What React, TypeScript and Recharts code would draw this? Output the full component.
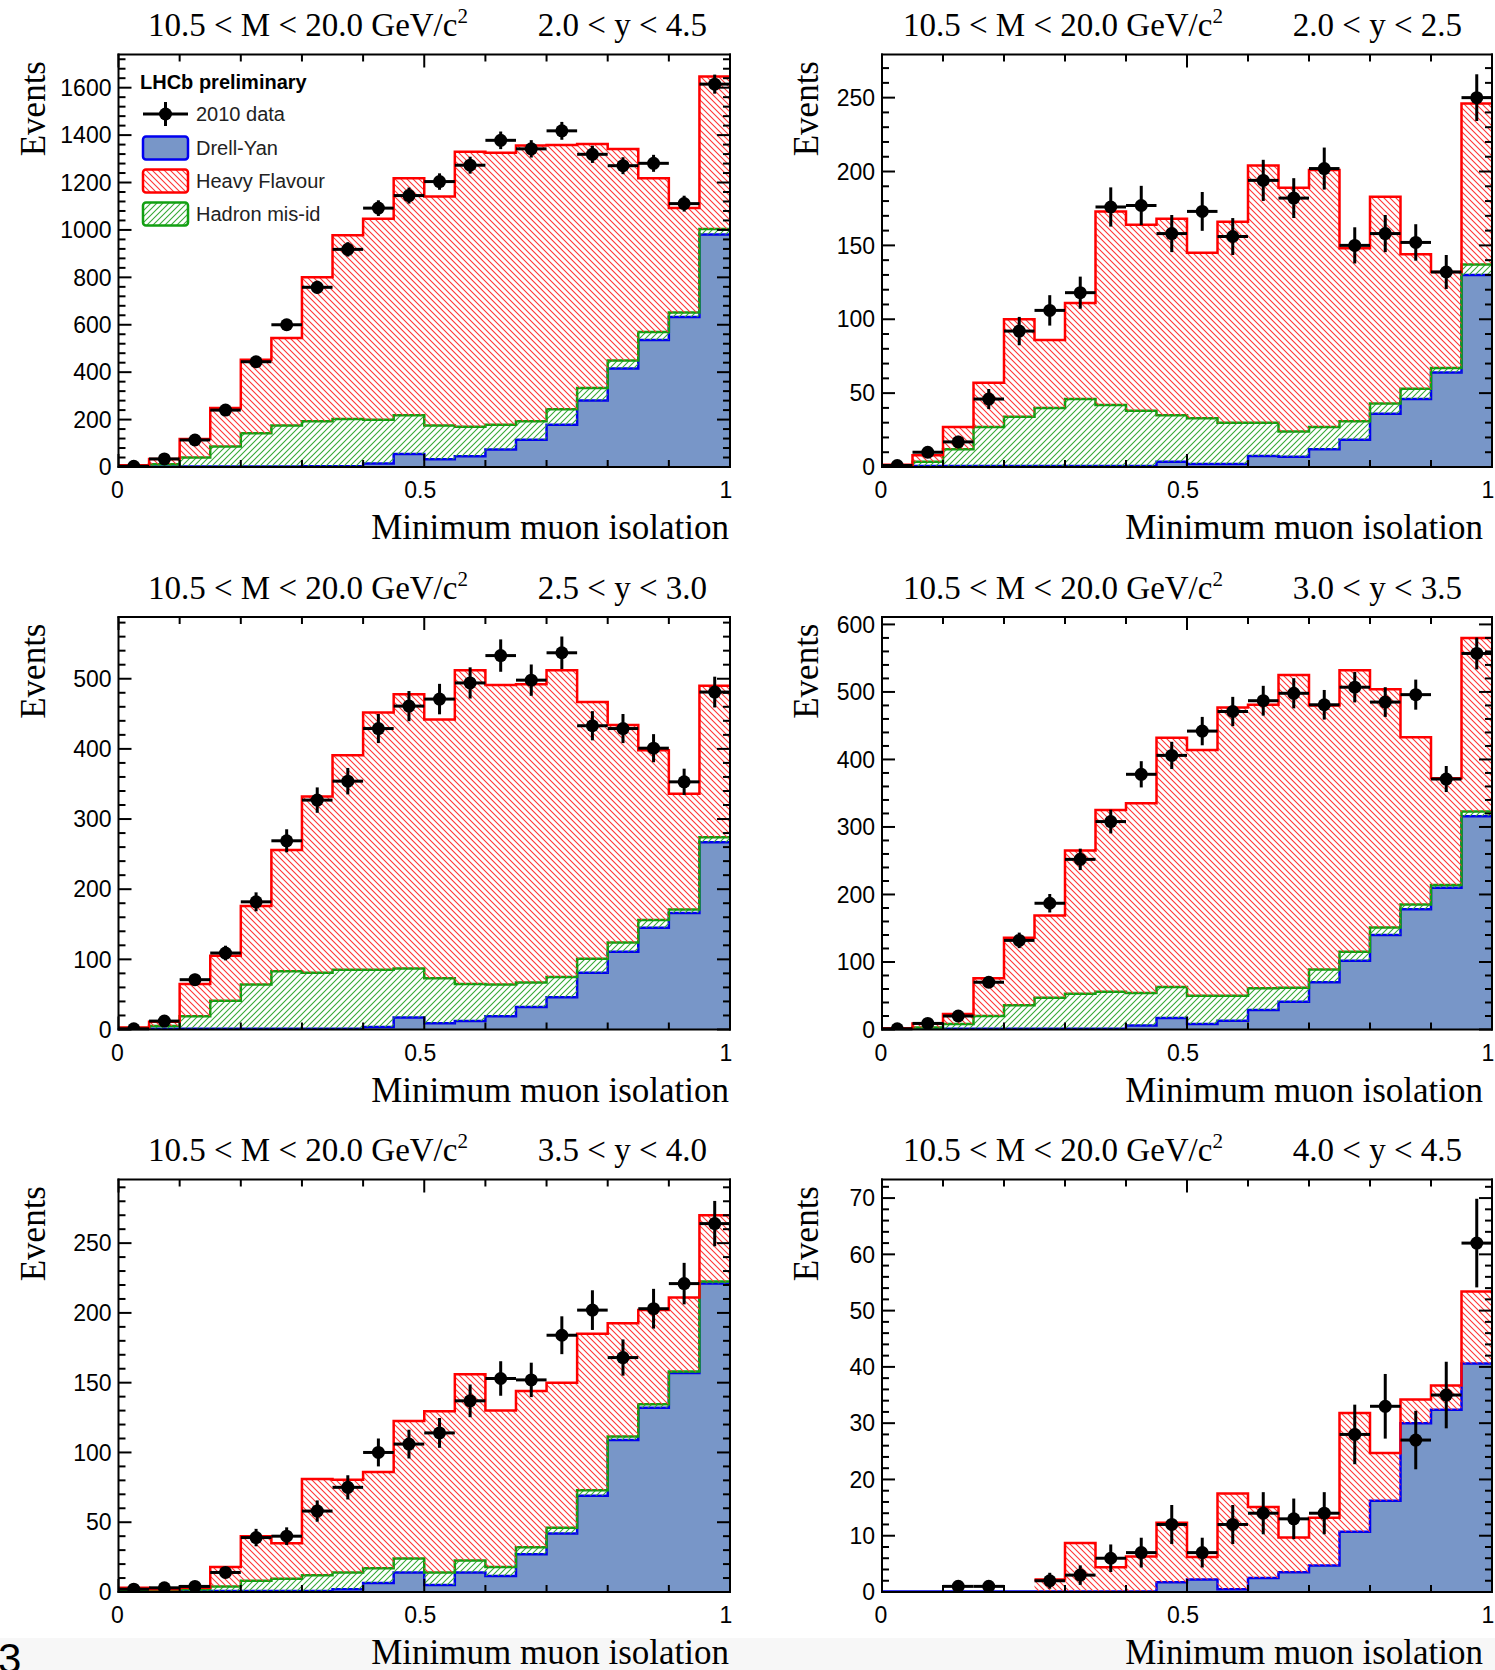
import React from 'react'
import { ComposedChart, Area, Scatter, ErrorBar, XAxis, YAxis } from 'recharts'

// bins of minimum muon isolation
const binEdges = [0, 0.05, 0.1, 0.15, 0.2, 0.25, 0.3, 0.35, 0.4, 0.45, 0.5, 0.55, 0.6, 0.65, 0.7, 0.75, 0.8, 0.85, 0.9, 0.95, 1]
const xTicks = [0, 0.1, 0.2, 0.3, 0.4, 0.5, 0.6, 0.7, 0.8, 0.9, 1]
const xLabels = [0, 0.5, 1]

const massLabel = '10.5 < M < 20.0 GeV/c'
const rapidityBins = ['2.0 < y < 4.5', '2.0 < y < 2.5', '2.5 < y < 3.0', '3.0 < y < 3.5', '3.5 < y < 4.0', '4.0 < y < 4.5']
const xTitle = 'Minimum muon isolation'
const yTitle = 'Events'
const experimentLabel = 'LHCb preliminary'
const legendLabels = ['2010 data', 'Drell-Yan', 'Heavy Flavour', 'Hadron mis-id']

// 2.0 < y < 4.5
const dy1 = [2, 2, 2, 2, 2, 2, 3, 3, 15, 55, 33, 45, 74, 115, 178, 281, 415, 536, 633, 981]
const misid1 = [1, 10, 38, 84, 140, 173, 190, 200, 184, 163, 142, 125, 104, 78, 66, 52, 34, 33, 19, 23]
const hf1 = [4, 22, 78, 163, 310, 369, 607, 775, 848, 1000, 966, 1160, 1148, 1163, 1114, 1030, 892, 649, 441, 643]
const data1 = [3, 34, 114, 240, 444, 600, 758, 918, 1092, 1145, 1204, 1273, 1378, 1342, 1418, 1319, 1271, 1281, 1111, 1615]
const yLabels1 = [0, 200, 400, 600, 800, 1000, 1200, 1400, 1600]

// 2.0 < y < 2.5
const dy2 = [0.7, 0.7, 0.7, 0.7, 0.7, 0.7, 0.7, 0.7, 0.7, 3.5, 2, 2, 7.5, 7, 12, 18.5, 36, 46, 64, 130]
const misid2 = [0.3, 2.8, 11.3, 26.3, 33.3, 39.3, 45.3, 41.3, 37.3, 31.5, 31, 28, 22.5, 17, 15, 12.5, 7, 7, 3, 7]
const hf2 = [0.5, 4.5, 15, 30, 66, 46, 65, 131, 126, 133, 112, 136, 174, 165, 174, 117, 140, 91, 65, 109]
const data2 = [1, 10, 17, 46, 92, 106, 118, 176, 177, 158, 173, 156, 194, 182, 202, 150, 158, 152, 132, 250]
const yLabels2 = [0, 50, 100, 150, 200, 250]

// 2.5 < y < 3.0
const dy3 = [1, 1, 1, 1, 1, 1, 1, 1, 3.5, 17, 9, 12, 19, 32, 46, 81, 111, 145, 166, 267]
const misid3 = [1, 4, 18, 40, 63, 82, 80, 84, 81.5, 70, 64, 53, 45, 35, 29, 20, 13, 11, 5, 7]
const hf3 = [1, 6, 46, 64, 112, 173, 251, 306, 367, 391, 369, 447, 427, 425, 437, 366, 310, 242, 165, 216]
const data3 = [1, 12, 71, 109, 182, 269, 327, 354, 429, 461, 471, 494, 533, 498, 537, 433, 429, 401, 353, 481]
const yLabels3 = [0, 100, 200, 300, 400, 500]

// 3.0 < y < 3.5
const dy4 = [1, 1, 1, 1, 1, 1, 1, 1, 6, 17, 8, 13, 29, 41, 70, 102, 140, 178, 210, 316]
const misid4 = [0, 2, 7, 19, 35, 46, 52, 55, 48, 46, 42, 37, 32, 21, 19, 13, 11, 7, 4, 7]
const hf4 = [1, 6, 15, 56, 100, 122, 212, 269, 281, 369, 364, 427, 420, 463, 391, 417, 353, 248, 158, 257]
const data4 = [1, 9, 20, 70, 132, 187, 252, 308, 378, 406, 442, 471, 487, 498, 481, 507, 485, 496, 371, 557]
const yLabels4 = [0, 100, 200, 300, 400, 500, 600]

// 3.5 < y < 4.0
const dy5 = [0.75, 0.75, 0.75, 0.75, 0.75, 0.75, 0.75, 2, 6.5, 14, 5, 14, 11.5, 27, 42, 69, 109, 132, 157, 221]
const misid5 = [0.75, 0.75, 1.25, 3.25, 7.25, 8.75, 11.25, 12, 10.5, 10, 9, 8.5, 6.5, 5, 4, 4, 2.5, 2.5, 1, 1.5]
const hf5 = [1.5, 0.5, 1, 14, 32, 25.5, 69, 66.5, 69, 98.5, 115.5, 133.5, 112, 112, 104, 112, 81, 67.5, 53, 47.5]
const data5 = [2, 3, 4, 14, 39, 40, 58, 75, 100, 106, 114, 137, 153, 152, 184, 202, 168, 203, 221, 264]
const yLabels5 = [0, 50, 100, 150, 200, 250]

// 4.0 < y < 4.5 (no visible hadron mis-id, no heavy flavour below 0.25)
const dy6 = [0.1, 0.1, 0.1, 0.1, 0.1, 0.1, 0.1, 0.1, 0.1, 1.75, 2.2, 0.5, 2.5, 3.5, 4.7, 10.7, 16.2, 30, 32.4, 40.6]
const hf6 = [null, null, null, null, null, 2.1, 8.6, 4.3, 6.2, 10.55, 4, 17, 12.6, 6.2, 8.5, 21.1, 8.5, 4.2, 4.3, 12.8]
const data6 = [null, null, 1, 1, null, 2, 3, 6, 7, 12, 7, 12, 14, 13, 14, 28, 33, 27, 35, 62]
const yLabels6 = [0, 10, 20, 30, 40, 50, 60, 70]

type PanelDef = {
  range: string
  dy: number[]
  misid: number[] | null
  hf: (number | null)[]
  data: (number | null)[]
  yLabels: number[]
  yMax: number
  col: number
  row: number
}

const panels: PanelDef[] = [
  { range: rapidityBins[0], dy: dy1, misid: misid1, hf: hf1, data: data1, yLabels: yLabels1, yMax: 1740, col: 0, row: 0 },
  { range: rapidityBins[1], dy: dy2, misid: misid2, hf: hf2, data: data2, yLabels: yLabels2, yMax: 279.2, col: 1, row: 0 },
  { range: rapidityBins[2], dy: dy3, misid: misid3, hf: hf3, data: data3, yLabels: yLabels3, yMax: 588, col: 0, row: 1 },
  { range: rapidityBins[3], dy: dy4, misid: misid4, hf: hf4, data: data4, yLabels: yLabels4, yMax: 611, col: 1, row: 1 },
  { range: rapidityBins[4], dy: dy5, misid: misid5, hf: hf5, data: data5, yLabels: yLabels5, yMax: 295.6, col: 0, row: 2 },
  { range: rapidityBins[5], dy: dy6, misid: null, hf: hf6, data: data6, yLabels: yLabels6, yMax: 73.3, col: 1, row: 2 },
]

// page layout (px)
const COLS = [
  { left: 0, width: 750, plotLeft: 118.5, plotRight: 730, titleX: 148, rangeEnd: 707, xTitleEnd: 729, eventsX: 44.5 },
  { left: 760, width: 735, plotLeft: 882, plotRight: 1492, titleX: 903, rangeEnd: 1462, xTitleEnd: 1483, eventsX: 818 },
]
const ROWS = [
  { top: 0, plotTop: 54.5 },
  { top: 560, plotTop: 617 },
  { top: 1120, plotTop: 1179.5 },
]
const PLOT_H = 412.5
const CHART_H = 550
const AX = 1 // axis thickness reserved by recharts (must be > 0 for the axis to draw)

const DY_FILL = '#7896c8'
const DY_LINE = '#0000f0'
const HF_LINE = '#ff0000'
const HF_HATCH = '#ff3535'
const MISID_LINE = '#12a012'
const MISID_HATCH = '#36a836'
const SANS = '"Liberation Sans", Arial, Helvetica, sans-serif'
const SERIF = '"Liberation Serif", "Times New Roman", serif'

const TM = 10
const MAJOR = 13
const MINOR = 7

function Hatches({ id }: { id: string }) {
  return (
    <defs>
      <pattern id={`hf-${id}`} width={6} height={6} patternUnits="userSpaceOnUse">
        <path d="M-1,-1 L7,7 M-1,5 L1,7 M5,-1 L7,1" stroke={HF_HATCH} strokeWidth={1.1} />
      </pattern>
      <pattern id={`mis-${id}`} width={6} height={6} patternUnits="userSpaceOnUse">
        <path d="M-1,7 L7,-1 M-1,1 L1,-1 M5,7 L7,5" stroke={MISID_HATCH} strokeWidth={1.1} />
      </pattern>
    </defs>
  )
}

function makeTick(side: 'bottom' | 'top' | 'left' | 'right', majors: number[]) {
  return (props: any) => {
    const { x, y, payload } = props
    const v = payload.value
    const major = majors.includes(v)
    const len = major ? MAJOR : MINOR
    if (side === 'bottom') {
      const ay = y - TM
      return (
        <g>
          <line x1={x} x2={x} y1={ay} y2={ay - len} stroke="#000" strokeWidth={2} />
          {major && (
            <text x={x + (v === 0 ? -1 : -4)} y={ay + 31} textAnchor="middle" fontFamily={SANS} fontSize={23} fill="#000">
              {String(v)}
            </text>
          )}
        </g>
      )
    }
    if (side === 'top') {
      const ay = y + TM
      return <line x1={x} x2={x} y1={ay} y2={ay + len} stroke="#000" strokeWidth={2} />
    }
    if (side === 'left') {
      const ax = x + TM
      return (
        <g>
          <line x1={ax} x2={ax + len} y1={y} y2={y} stroke="#000" strokeWidth={2} />
          {major && (
            <text x={ax - 7} y={y + 8.2} textAnchor="end" fontFamily={SANS} fontSize={23} fill="#000">
              {String(v)}
            </text>
          )}
        </g>
      )
    }
    const ax = x - TM
    return <line x1={ax} x2={ax - len} y1={y} y2={y} stroke="#000" strokeWidth={2} />
  }
}

function yTicksFor(labels: number[], max: number) {
  const step = (labels[1] - labels[0]) / 5
  const out: number[] = []
  for (let k = 0; k * step <= max; k++) out.push(Math.round(k * step * 1000) / 1000)
  return out
}

const frame = { stroke: '#000', strokeWidth: 2, strokeLinecap: 'square' as const }

function Panel({ p, idx }: { p: PanelDef; idx: number }) {
  const col = COLS[p.col]
  const row = ROWS[p.row]
  const top = row.plotTop - row.top
  const margin = {
    top: top - AX,
    bottom: CHART_H - top - PLOT_H - AX,
    left: col.plotLeft - col.left - AX,
    right: col.left + col.width - col.plotRight - AX,
  }

  // step rows at the bin low edges, closed at x = 1
  const rows = binEdges.map((x, i) => {
    const k = Math.min(i, p.dy.length - 1)
    return { x, dy: p.dy[k], misid: p.misid ? p.misid[k] : 0, hf: p.hf[k] }
  })
  const points = p.data.flatMap((v, i) =>
    v == null
      ? []
      : [{
          x: (binEdges[i] + binEdges[i + 1]) / 2,
          v,
          ex: (binEdges[i + 1] - binEdges[i]) / 2,
          ey: Math.sqrt(v), // Poisson errors
        }]
  )
  const yTicks = yTicksFor(p.yLabels, p.yMax)
  const id = String(idx)

  return (
    <div style={{ position: 'absolute', left: col.left, top: row.top }}>
      <ComposedChart width={col.width} height={CHART_H} data={rows} margin={margin}>
        <Hatches id={id} />
        <Area
          dataKey="dy"
          stackId="s"
          type="stepAfter"
          stroke={DY_LINE}
          strokeWidth={2.5}
          fill={DY_FILL}
          fillOpacity={1}
          dot={false}
          activeDot={false}
          isAnimationActive={false}
        />
        {p.misid && (
          <Area
            dataKey="misid"
            stackId="s"
            type="stepAfter"
            stroke={MISID_LINE}
            strokeWidth={2.5}
            fill={`url(#mis-${id})`}
            fillOpacity={1}
            dot={false}
            activeDot={false}
            isAnimationActive={false}
          />
        )}
        <Area
          dataKey="hf"
          stackId="s"
          type="stepAfter"
          stroke={HF_LINE}
          strokeWidth={2.5}
          fill={`url(#hf-${id})`}
          fillOpacity={1}
          dot={false}
          activeDot={false}
          isAnimationActive={false}
        />
        <Scatter
          data={points}
          dataKey="v"
          isAnimationActive={false}
          shape={(s: any) => <circle cx={s.cx} cy={s.cy} r={6.5} fill="#000" />}
        >
          <ErrorBar dataKey="ey" direction="y" width={0} stroke="#000" strokeWidth={3} isAnimationActive={false} />
          <ErrorBar dataKey="ex" direction="x" width={0} stroke="#000" strokeWidth={3} isAnimationActive={false} />
        </Scatter>
        <XAxis
          dataKey="x"
          type="number"
          domain={[0, 1]}
          allowDataOverflow
          ticks={xTicks}
          interval={0}
          height={AX}
          tickSize={0}
          tickMargin={TM}
          tickLine={false}
          axisLine={frame}
          tick={makeTick('bottom', xLabels)}
        />
        <XAxis
          xAxisId="top"
          orientation="top"
          dataKey="x"
          type="number"
          domain={[0, 1]}
          allowDataOverflow
          ticks={xTicks}
          interval={0}
          height={AX}
          tickSize={0}
          tickMargin={TM}
          tickLine={false}
          axisLine={frame}
          tick={makeTick('top', xLabels)}
        />
        <YAxis
          type="number"
          domain={[0, p.yMax]}
          allowDataOverflow
          ticks={yTicks}
          interval={0}
          width={AX}
          tickSize={0}
          tickMargin={TM}
          tickLine={false}
          axisLine={frame}
          tick={makeTick('left', p.yLabels)}
        />
        <YAxis
          yAxisId="right"
          orientation="right"
          type="number"
          domain={[0, p.yMax]}
          allowDataOverflow
          ticks={yTicks}
          interval={0}
          width={AX}
          tickSize={0}
          tickMargin={TM}
          tickLine={false}
          axisLine={frame}
          tick={makeTick('right', p.yLabels)}
        />
      </ComposedChart>
    </div>
  )
}

function Texts() {
  const legendY = [114, 148, 181, 214]
  return (
    <svg
      width={1495}
      height={1670}
      style={{ position: 'absolute', left: 0, top: 0, pointerEvents: 'none' }}
    >
      <Hatches id="legend" />
      {panels.map((p, i) => {
        const col = COLS[p.col]
        const row = ROWS[p.row]
        const bottom = row.plotTop + PLOT_H
        return (
          <g key={i} fill="#000">
            <text x={col.titleX} y={row.plotTop - 18.5} fontFamily={SERIF} fontSize={33}>
              {massLabel}
              <tspan dy={-13} fontSize={21}>2</tspan>
            </text>
            <text x={col.rangeEnd} y={row.plotTop - 18.5} fontFamily={SERIF} fontSize={33} textAnchor="end">
              {p.range}
            </text>
            <text x={col.xTitleEnd} y={bottom + 72} fontFamily={SERIF} fontSize={35} textAnchor="end">
              {xTitle}
            </text>
            <text
              x={col.eventsX}
              y={row.plotTop + 6.5}
              fontFamily={SERIF}
              fontSize={35}
              textAnchor="end"
              transform={`rotate(-90, ${col.eventsX}, ${row.plotTop + 6.5})`}
            >
              {yTitle}
            </text>
          </g>
        )
      })}

      {/* legend of the first panel */}
      <text x={140} y={88.7} fontFamily={SANS} fontSize={20} fontWeight="bold" fill="#000">
        {experimentLabel}
      </text>
      <line x1={143} x2={188} y1={legendY[0]} y2={legendY[0]} stroke="#000" strokeWidth={3} />
      <line x1={165.5} x2={165.5} y1={legendY[0] - 12} y2={legendY[0] + 12} stroke="#000" strokeWidth={3} />
      <circle cx={165.5} cy={legendY[0]} r={6.5} fill="#000" />
      <rect x={143} y={legendY[1] - 11.5} width={45} height={23} rx={3} fill={DY_FILL} stroke={DY_LINE} strokeWidth={2.5} />
      <rect x={143} y={legendY[2] - 11.5} width={45} height={23} rx={3} fill="url(#hf-legend)" stroke={HF_LINE} strokeWidth={2.5} />
      <rect x={143} y={legendY[3] - 11.5} width={45} height={23} rx={3} fill="url(#mis-legend)" stroke={MISID_LINE} strokeWidth={2.5} />
      {legendLabels.map((l, i) => (
        <text key={l} x={196} y={legendY[i] + 7.2} fontFamily={SANS} fontSize={20} fill="#222">
          {l}
        </text>
      ))}

      <text x={-2} y={1673} fontFamily={SANS} fontSize={42} fill="#000">3</text>
    </svg>
  )
}

export default function App() {
  return (
    <div
      style={{
        position: 'absolute',
        left: 0,
        top: 0,
        width: 1495,
        height: 1670,
        background: '#fff',
        overflow: 'hidden',
      }}
    >
      <div style={{ position: 'absolute', left: 0, top: 1638, width: 1495, height: 32, background: '#f7f7f7' }} />
      {panels.map((p, i) => (
        <Panel key={i} p={p} idx={i} />
      ))}
      <Texts />
    </div>
  )
}
